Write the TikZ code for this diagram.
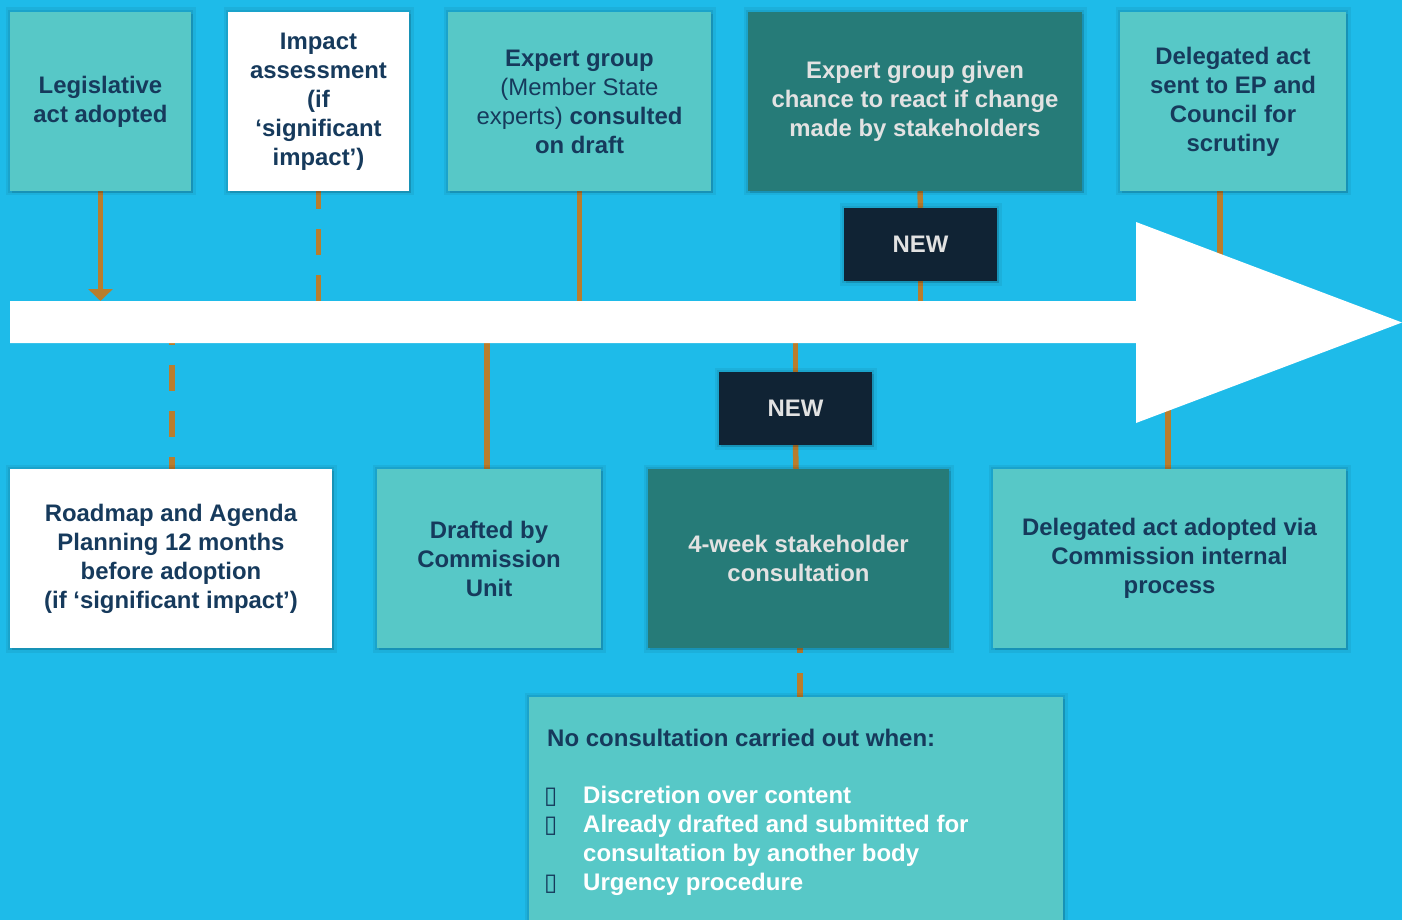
\documentclass[tikz,border=0pt]{standalone}
\usepackage{fontspec}
\setmainfont{Liberation Sans}
\newfontfamily\dejavu{DejaVu Sans}
\usetikzlibrary{arrows.meta,shadows}
\definecolor{bgblue}{HTML}{1EBBE9}
\definecolor{lteal}{HTML}{57C8C7}
\definecolor{dteal}{HTML}{267B78}
\definecolor{navybox}{HTML}{102334}
\definecolor{navytext}{HTML}{163A5C}
\definecolor{greytext}{HTML}{E2E2E2}
\definecolor{conn}{HTML}{B97D2D}
\pgfdeclarelayer{bglayer}
\pgfdeclarelayer{linelayer}
\pgfsetlayers{bglayer,linelayer,main}
\begin{document}
\begin{tikzpicture}[x=1pt,y=-1pt,
  box/.style={rectangle, inner sep=0pt, align=center,
    font=\fontsize{23.9}{29}\selectfont\bfseries,
    preaction={draw=black, draw opacity=0.06, line width=9pt},
    preaction={draw=black, draw opacity=0.07, line width=4.5pt},
    general shadow={fill=black, opacity=0.10, shadow xshift=1.5pt, shadow yshift=-2pt}},
  tall/.style={minimum height=179pt},
  lightbox/.style={box, tall, fill=lteal, text=navytext},
  whitebox/.style={box, tall, fill=white, text=navytext},
  darkbox/.style={box, tall, fill=dteal, text=greytext},
  newbox/.style={box, fill=navybox, text=greytext, minimum width=153pt, minimum height=73pt},
  link/.style={draw=conn, line width=5.5pt},
  dlink/.style={link, dash pattern=on 26pt off 20pt},
  itemtext/.style={anchor=base west, inner sep=0pt, font=\fontsize{24}{29}\selectfont\bfseries}
]
\useasboundingbox (0,0) rectangle (1402,920);
\begin{pgfonlayer}{bglayer}
\fill[bgblue] (0,0) rectangle (1402,920);
\end{pgfonlayer}

% coordinates on the timeline arrow
\coordinate (shafttop) at (0,301);
\coordinate (shaftbot) at (0,343);
\coordinate (shaftmid) at (0,322);

% top row
\node[lightbox, minimum width=181pt] (leg) at (100.5,101.5) {Legislative\\act adopted};
\node[whitebox, minimum width=181pt] (imp) at (318.5,101.5) {Impact\\assessment\\(if\\‘significant\\impact’)};
\node[lightbox, minimum width=263pt] (exp) at (579.5,101.5) {Expert group\\\mdseries(Member State\\\mdseries experts) \bfseries consulted\\on draft};
\node[darkbox, minimum width=334pt] (expg) at (915,101.5) {Expert group given\\chance to react if change\\made by stakeholders};
\node[lightbox, minimum width=226pt] (dels) at (1233,101.5) {Delegated act\\sent to EP and\\Council for\\scrutiny};
\node[newbox] (new1) at (920.5,244.5) {NEW};

% bottom row
\node[whitebox, minimum width=322pt] (road) at (171,558.5) {Roadmap and Agenda\\Planning 12 months\\before adoption\\(if ‘significant impact’)};
\node[lightbox, minimum width=224pt] (draft) at (489,558.5) {Drafted by\\Commission\\Unit};
\node[darkbox, minimum width=301pt] (week) at (798.5,558.5) {4-week stakeholder\\consultation};
\node[lightbox, minimum width=353pt] (dela) at (1169.5,558.5) {Delegated act adopted via\\Commission internal\\process};
\node[newbox] (new2) at (795.5,408.5) {NEW};

% no-consultation box
\node[box, fill=lteal, minimum width=534pt, minimum height=240pt] (nocons) at (796,817) {};
\node[itemtext, text=navytext] (head) at (547,746) {No consultation carried out when:};
\node[itemtext, text=navytext] (m1) at (544,803) {\dejavu\bfseries ▯};
\node[itemtext, text=white] (i1) at (583,803) {Discretion over content};
\node[itemtext, text=navytext] (m2) at (544,832) {\dejavu\bfseries ▯};
\node[itemtext, text=white] (i2) at (583,832) {Already drafted and submitted for};
\node[itemtext, text=white] (i2b) at (583,861) {consultation by another body};
\node[itemtext, text=navytext] (m3) at (544,890) {\dejavu\bfseries ▯};
\node[itemtext, text=white] (i3) at (583,890) {Urgency procedure};

% timeline arrow
\fill[white] (10,301) -- (1136,301) -- (1136,222) -- (1402,322.5) -- (1136,423) -- (1136,343) -- (10,343) -- cycle;

% connectors
\begin{pgfonlayer}{linelayer}
\draw[link, -{Triangle[width=24pt,length=12pt]}] (leg.south) -- (leg.south |- shafttop);
\draw[dlink, dash phase=8pt] (imp.south) -- (imp.south |- shafttop);
\draw[link] (exp.south) -- (exp.south |- shafttop);
\draw[link] ([xshift=5pt]expg.south) -- (new1.north);
\draw[link] (new1.south) -- (new1.south |- shaftmid);
\draw[link] ([xshift=-13pt]dels.south) -- ([xshift=-13pt]dels.south |- shaftmid);
\draw[dlink, dash phase=24pt] ([xshift=1pt]road.north |- shaftbot) -- ([xshift=1pt]road.north);
\draw[link] ([xshift=-2pt]draft.north |- shaftmid) -- ([xshift=-2pt]draft.north);
\draw[link] (new2.north |- shaftmid) -- (new2.north);
\draw[link] (new2.south) -- ([xshift=-2.5pt]week.north);
\draw[link] ([xshift=-1.5pt]dela.north |- shaftmid) -- ([xshift=-1.5pt]dela.north);
\draw[dlink, dash phase=21pt] ([xshift=1.5pt]week.south) -- ([xshift=1.5pt]week.south |- nocons.north);
\end{pgfonlayer}
\end{tikzpicture}
\end{document}
